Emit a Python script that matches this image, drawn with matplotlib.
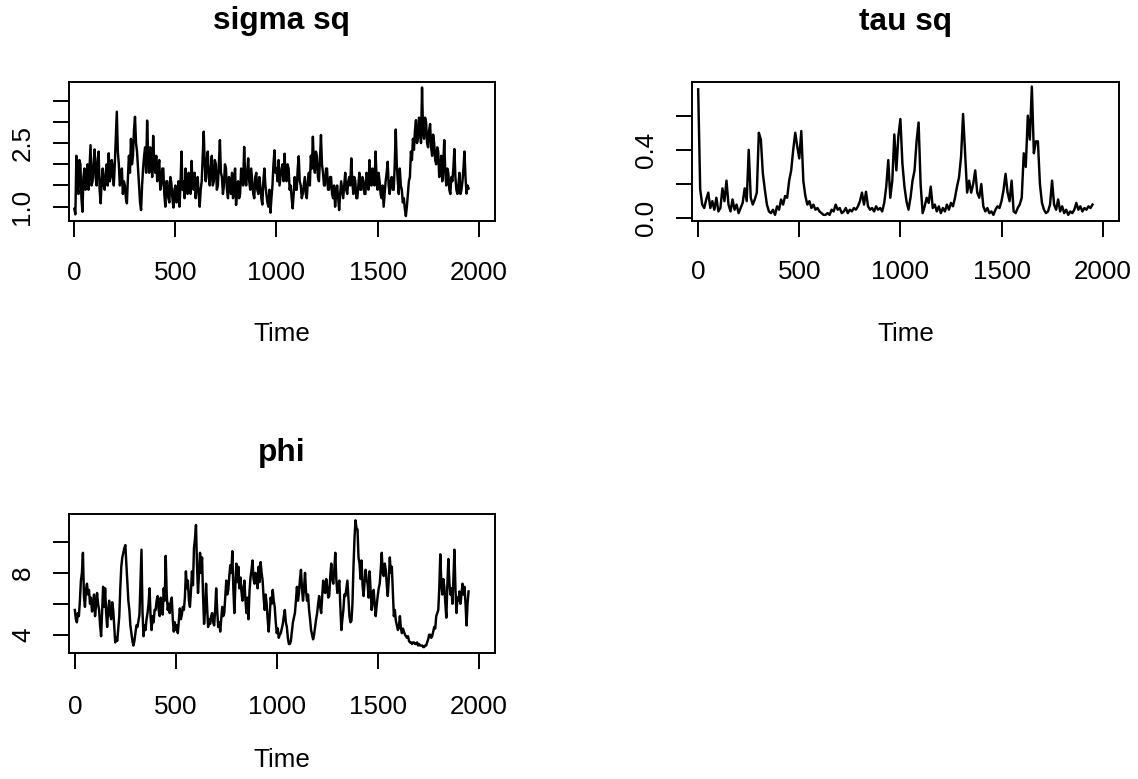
import numpy as np
import matplotlib
matplotlib.use("Agg")
import matplotlib.pyplot as plt

plt.rcParams['font.family'] = ['Liberation Sans', 'DejaVu Sans']

# ---------------- data -------------
iteration_fine = np.arange(0, 1951, 5)     # sigma sq and phi read every 5 iterations
iteration_coarse = np.arange(0, 1951, 10)  # tau sq read every 10 iterations

sigma_sq = [
    0.95, 0.82, 2.2, 1.5, 1.3, 2.1, 2.0, 1.2, 0.88, 1.7, 1.9, 1.4, 1.6, 2.0, 1.4, 1.9, 2.45, 1.5, 1.6, 2.0,
    2.35, 1.7, 1.5, 2.1, 2.3, 1.4, 1.08, 1.6, 1.9, 1.5, 1.4, 1.8, 2.0, 1.5, 2.26, 1.6, 1.7, 2.1, 1.9, 1.5,
    2.0, 2.6, 3.24, 2.3, 2.0, 1.5, 1.6, 1.9, 1.3, 1.6, 1.5, 1.2, 1.08, 1.7, 2.2, 1.8, 2.6, 2.0, 2.2, 2.8,
    3.12, 2.5, 2.3, 1.9, 1.5, 1.1, 0.92, 1.5, 1.9, 2.2, 2.4, 1.8, 3.03, 2.2, 1.8, 2.4, 2.3, 1.7, 2.67, 2.0,
    1.8, 2.2, 1.6, 1.9, 2.1, 1.4, 1.5, 1.9, 1.9, 1.3, 1.0, 1.6, 1.6, 1.2, 1.1, 1.7, 1.55, 1.2, 0.98, 1.4,
    1.5, 1.1, 1.2, 1.6, 1.0, 1.5, 2.3, 1.4, 1.6, 1.2, 1.9, 1.5, 1.3, 1.8, 1.7, 1.3, 2.08, 1.5, 1.4, 1.8,
    1.2, 1.5, 1.7, 1.3, 1.0, 1.4, 1.6, 2.2, 2.77, 2.0, 1.6, 2.1, 2.3, 1.7, 1.5, 1.9, 2.2, 1.5, 1.6, 2.1,
    2.0, 1.4, 1.5, 2.0, 2.57, 1.8, 1.7, 1.3, 1.5, 2.0, 1.9, 1.4, 1.2, 1.7, 1.6, 1.3, 1.8, 1.2, 1.5, 1.9,
    1.04, 1.4, 1.6, 1.2, 1.3, 1.9, 1.8, 1.5, 2.41, 1.7, 1.5, 1.8, 2.14, 1.6, 1.4, 1.9, 1.6, 1.3, 1.2, 1.7,
    1.8, 1.4, 1.3, 1.7, 1.5, 1.2, 1.05, 1.6, 1.9, 1.5, 1.3, 1.1, 1.0, 1.4, 0.86, 1.2, 1.5, 2.0, 2.33, 1.8,
    1.9, 1.6, 2.1, 1.5, 1.7, 1.9, 2.0, 1.6, 2.25, 1.7, 1.6, 2.0, 1.9, 1.4, 1.5, 1.2, 0.96, 1.3, 1.7, 1.4,
    1.4, 1.9, 2.19, 1.6, 1.5, 1.2, 1.3, 1.5, 1.7, 1.3, 1.2, 1.6, 1.8, 1.5, 2.2, 1.9, 2.65, 2.0, 1.8, 2.3,
    2.2, 1.7, 1.6, 2.1, 2.69, 2.0, 1.8, 1.5, 1.5, 1.9, 1.9, 1.4, 1.4, 1.7, 1.7, 1.3, 1.2, 1.5, 1.0, 1.3,
    1.5, 1.2, 0.92, 1.3, 1.6, 1.4, 1.2, 1.5, 1.8, 1.4, 1.3, 1.6, 1.7, 1.5, 2.14, 1.6, 1.3, 1.7, 1.6, 1.2,
    1.2, 1.5, 1.8, 1.4, 1.4, 1.7, 1.6, 1.3, 1.3, 1.8, 1.7, 1.4, 2.1, 1.6, 1.5, 1.9, 1.8, 1.5, 2.3, 1.7,
    1.4, 1.8, 1.6, 1.3, 1.2, 1.5, 1.0, 1.3, 1.6, 1.8, 2.06, 1.5, 1.3, 1.6, 1.7, 1.4, 1.4, 2.0, 2.82, 2.0,
    1.6, 1.3, 1.9, 1.5, 1.4, 1.1, 1.2, 0.95, 0.78, 1.0, 1.3, 1.6, 1.7, 2.3, 2.1, 2.6, 2.34, 2.8, 3.04, 2.5,
    2.6, 3.1, 2.9, 2.5, 3.81, 2.8, 2.6, 3.1, 3.0, 2.5, 2.4, 2.8, 2.95, 2.4, 2.2, 2.7, 2.5, 2.1, 2.0, 2.4,
    2.3, 1.7, 1.8, 2.2, 1.6, 2.0, 2.57, 1.8, 1.5, 1.9, 1.8, 1.4, 1.3, 1.7, 1.6, 1.9, 2.36, 1.7, 1.4, 1.3,
    1.5, 1.8, 1.3, 1.4, 1.6, 1.9, 2.3, 1.7, 1.31, 1.5, 1.43,
]

tau_sq = [
    0.754, 0.17, 0.08, 0.06, 0.11, 0.15, 0.06, 0.10, 0.05, 0.12,
    0.04, 0.06, 0.175, 0.10, 0.22, 0.08, 0.04, 0.11, 0.05, 0.08,
    0.03, 0.06, 0.09, 0.175, 0.10, 0.40, 0.12, 0.08, 0.11, 0.15,
    0.50, 0.46, 0.26, 0.165, 0.08, 0.04, 0.03, 0.05, 0.02, 0.07,
    0.05, 0.11, 0.08, 0.13, 0.12, 0.22, 0.28, 0.40, 0.50, 0.42,
    0.35, 0.51, 0.22, 0.13, 0.08, 0.10, 0.06, 0.08, 0.05, 0.06,
    0.04, 0.03, 0.02, 0.02, 0.03, 0.02, 0.05, 0.04, 0.08, 0.05,
    0.06, 0.03, 0.04, 0.06, 0.03, 0.05, 0.04, 0.06, 0.05, 0.07,
    0.10, 0.15, 0.08, 0.155, 0.07, 0.05, 0.06, 0.04, 0.07, 0.05,
    0.06, 0.04, 0.09, 0.185, 0.34, 0.12, 0.22, 0.49, 0.28, 0.48,
    0.58, 0.32, 0.185, 0.10, 0.05, 0.12, 0.22, 0.28, 0.45, 0.56,
    0.20, 0.03, 0.07, 0.12, 0.09, 0.185, 0.06, 0.08, 0.04, 0.07,
    0.03, 0.06, 0.04, 0.08, 0.05, 0.09, 0.07, 0.12, 0.185, 0.24,
    0.36, 0.61, 0.38, 0.15, 0.22, 0.15, 0.20, 0.28, 0.15, 0.12,
    0.20, 0.07, 0.04, 0.06, 0.03, 0.04, 0.02, 0.05, 0.07, 0.06,
    0.10, 0.165, 0.26, 0.15, 0.10, 0.22, 0.04, 0.03, 0.06, 0.08,
    0.12, 0.38, 0.30, 0.60, 0.46, 0.77, 0.38, 0.45, 0.45, 0.20,
    0.09, 0.05, 0.03, 0.04, 0.08, 0.22, 0.08, 0.05, 0.11, 0.04,
    0.07, 0.03, 0.05, 0.02, 0.04, 0.03, 0.05, 0.09, 0.05, 0.07,
    0.04, 0.06, 0.05, 0.07, 0.06, 0.08,
]

phi = [
    5.6, 5.0, 4.8, 5.4, 5.2, 6.2, 7.5, 8.0, 9.3, 6.5, 5.8, 6.9, 7.3, 6.6, 6.9, 6.0, 6.4, 5.5, 5.8, 6.6,
    5.2, 5.9, 6.7, 6.0, 5.6, 4.6, 3.9, 5.5, 7.1, 5.8, 7.0, 5.4, 4.5, 5.6, 6.2, 5.3, 5.0, 6.1, 5.6, 4.6,
    3.5, 3.8, 3.6, 4.4, 5.2, 7.0, 8.4, 9.0, 9.3, 9.6, 9.8, 8.6, 7.3, 6.2, 5.6, 4.6, 4.1, 3.6, 3.3, 3.6,
    4.1, 4.6, 4.5, 4.9, 5.3, 7.5, 9.5, 5.5, 3.9, 4.6, 4.3, 5.0, 5.4, 6.0, 7.0, 5.2, 4.3, 5.2, 4.8, 5.6,
    5.6, 6.2, 6.5, 5.6, 5.2, 6.4, 6.1, 5.3, 7.0, 6.2, 9.1, 6.6, 5.6, 6.0, 5.4, 6.1, 6.4, 5.0, 4.2, 4.8,
    4.3, 4.6, 4.1, 4.9, 5.7, 5.0, 5.3, 5.8, 5.6, 6.4, 8.1, 7.0, 7.5, 6.2, 5.8, 6.8, 8.1, 7.2, 9.6, 10.2,
    11.1, 8.5, 6.7, 8.0, 9.3, 8.0, 9.0, 6.5, 4.7, 5.6, 7.3, 5.8, 4.5, 5.0, 4.7, 5.2, 5.4, 4.8, 4.6, 5.6,
    7.0, 5.6, 4.5, 4.8, 4.2, 5.0, 5.8, 5.2, 5.4, 6.5, 7.5, 6.6, 6.9, 7.8, 8.5, 8.0, 9.4, 7.0, 5.4, 7.2,
    8.6, 7.4, 8.4, 7.0, 7.7, 6.8, 6.2, 7.0, 7.5, 6.2, 5.4, 6.4, 5.0, 6.8, 7.7, 8.2, 8.8, 7.6, 7.3, 8.0,
    7.7, 7.0, 8.4, 7.4, 8.7, 8.0, 7.5, 6.4, 5.6, 6.6, 6.0, 5.0, 4.2, 5.2, 6.4, 6.0, 6.9, 6.2, 5.8, 4.8,
    4.1, 4.4, 3.8, 4.0, 4.1, 4.4, 4.7, 5.2, 5.6, 4.8, 4.5, 3.8, 3.4, 3.4, 3.6, 4.2, 4.8, 5.1, 5.4, 6.2,
    7.1, 6.2, 6.7, 7.6, 8.2, 7.0, 6.2, 7.0, 8.0, 6.8, 6.2, 6.6, 5.6, 5.0, 4.3, 4.0, 3.7, 4.0, 4.5, 5.0,
    5.4, 6.0, 6.5, 5.8, 5.4, 6.4, 7.5, 6.8, 6.7, 7.6, 7.1, 6.4, 6.5, 7.8, 8.6, 7.6, 7.3, 8.2, 9.3, 7.6,
    6.7, 7.2, 7.5, 5.8, 4.3, 5.0, 5.6, 6.6, 6.5, 7.0, 7.5, 6.4, 5.2, 4.8, 4.9, 6.0, 8.4, 10.2, 11.4, 10.9,
    10.8, 9.0, 8.6, 7.6, 8.8, 7.2, 6.5, 7.4, 8.2, 7.6, 7.3, 6.4, 8.1, 6.8, 5.6, 6.2, 6.9, 6.0, 5.2, 5.9,
    6.5, 7.0, 7.3, 8.2, 9.3, 8.0, 7.8, 8.6, 8.2, 7.2, 6.5, 7.6, 9.0, 8.0, 8.4, 6.8, 5.2, 5.6, 4.9, 4.6,
    4.3, 4.5, 5.2, 4.4, 4.1, 4.4, 4.2, 4.0, 3.9, 3.8, 3.9, 3.6, 3.5, 3.5, 3.4, 3.5, 3.5, 3.4, 3.4, 3.5,
    3.3, 3.4, 3.3, 3.3, 3.3, 3.2, 3.2, 3.3, 3.3, 3.5, 3.7, 4.0, 4.0, 3.8, 3.9, 4.2, 4.5, 4.4, 5.2, 5.4,
    5.6, 7.0, 9.2, 7.4, 6.6, 7.6, 7.1, 6.0, 5.1, 7.2, 8.9, 7.4, 6.6, 7.0, 6.0, 7.6, 9.5, 7.0, 5.4, 6.4,
    6.2, 6.8, 6.0, 6.6, 7.3, 6.6, 7.1, 6.0, 4.6, 6.0, 6.8,
]

titles = ["sigma sq", "tau sq", "phi"]
x_ticks = [0, 500, 1000, 1500, 2000]
x_tick_labels = ["0", "500", "1000", "1500", "2000"]
y_ticks = [[1.0, 1.5, 2.0, 2.5, 3.0, 3.5],
           [0.0, 0.2, 0.4, 0.6],
           [4, 6, 8, 10]]
y_tick_labels = [["1.0", "", "", "2.5", "", ""],
                 ["0.0", "", "0.4", ""],
                 ["4", "", "8", ""]]
x_label = "Time"

# ---------------- layout -------------
W, H = 1138, 779
fig = plt.figure(figsize=(W / 100, H / 100), dpi=100)
fig.patch.set_facecolor("white")

boxes = [  # left, right, top, bottom in pixels
    (68.5, 495, 82, 221),
    (692.3, 1119, 82.3, 220.5),
    (69, 495, 514, 652.7),
]
ylims = [(0.663, 3.94), (-0.013, 0.795), (2.835, 11.81)]
xs = [iteration_fine, iteration_coarse, iteration_fine]
series = [sigma_sq, tau_sq, phi]
xtick_pads = [17.0, 17.0, 19.2]
xlabel_pads = [27.0, 27.0, 20.5]

for i in range(3):
    l, r, t, b = boxes[i]
    ax = fig.add_axes([l / W, (H - b) / H, (r - l) / W, (b - t) / H])
    ax.plot(xs[i], series[i], color="black", lw=1.75)
    ax.set_xlim(-29, 2081)
    ax.set_ylim(*ylims[i])
    ax.set_xticks(x_ticks)
    ax.set_xticklabels(x_tick_labels)
    ax.set_yticks(y_ticks[i])
    ax.set_yticklabels(y_tick_labels[i])
    for s in ax.spines.values():
        s.set_linewidth(1.4)
        s.set_color("black")
    ax.tick_params(axis="both", direction="out", length=11.5, width=1.4,
                   labelsize=18.7, colors="black")
    ax.tick_params(axis="x", pad=xtick_pads[i])
    ax.tick_params(axis="y", pad=13.0, labelrotation=90)
    for lab in ax.get_yticklabels():
        lab.set_va("center")
        lab.set_ha("right")
    ax.set_title(titles[i], fontsize=22.8, fontweight="bold", pad=38)
    ax.set_xlabel(x_label, fontsize=18.7, labelpad=xlabel_pads[i])

fig.savefig("out.png", dpi=100, facecolor="white")
